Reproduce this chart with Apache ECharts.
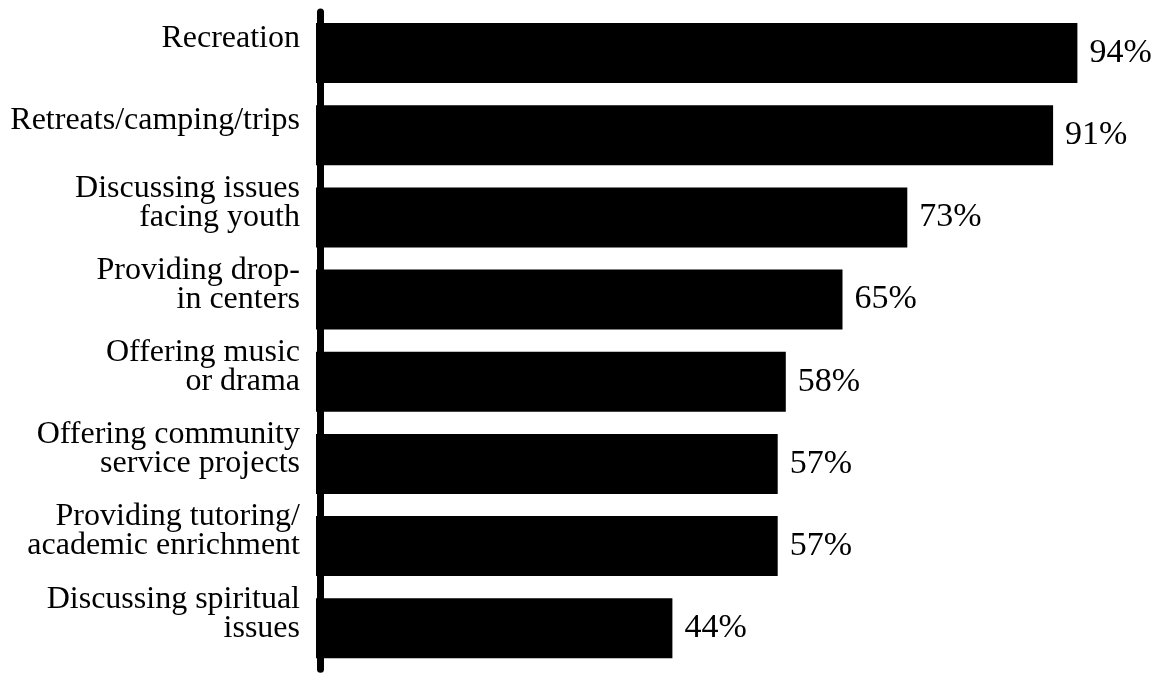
<!DOCTYPE html>
<html>
<head>
<meta charset="utf-8">
<script src="https://cdn.jsdelivr.net/npm/echarts@6/dist/echarts.min.js"></script>
<style>
html,body{margin:0;padding:0;background:#fff;}
#chart{width:1171px;height:673px;}
</style>
</head>
<body>
<div id="chart"></div>
<script>
const categories = [
  "Recreation",
  "Retreats/camping/trips",
  "Discussing issues\nfacing youth",
  "Providing drop-\nin centers",
  "Offering music\nor drama",
  "Offering community\nservice projects",
  "Providing tutoring/\nacademic enrichment",
  "Discussing spiritual\nissues"
];
const values = [94, 91, 73, 65, 58, 57, 57, 44];

const chart = echarts.init(document.getElementById('chart'));
chart.setOption({
  animation: false,
  backgroundColor: '#fff',
  grid: { left: 316, right: 45, top: 12, bottom: 0, containLabel: false },
  xAxis: {
    type: 'value', min: 0, max: 100, show: false
  },
  yAxis: {
    type: 'category',
    data: categories,
    inverse: true,
    offset: -4,
    axisLine: { show: true, lineStyle: { color: '#000', width: 7 } },
    axisTick: { show: false },
    splitLine: { show: false },
    axisLabel: {
      interval: 0,
      margin: 20,
      color: '#000',
      fontFamily: '"Liberation Serif", "DejaVu Serif", serif',
      fontSize: 32,
      lineHeight: 29,
      align: 'right',
      formatter: v => v + '\n'
    }
  },
  series: [{
    type: 'bar',
    data: values,
    barWidth: 60,
    itemStyle: { color: '#000' },
    label: {
      show: true,
      position: 'right',
      distance: 12,
      color: '#000',
      fontFamily: '"Liberation Serif", "DejaVu Serif", serif',
      fontSize: 34,
      formatter: p => p.value + '%'
    }
  }]
});
</script>
</body>
</html>
